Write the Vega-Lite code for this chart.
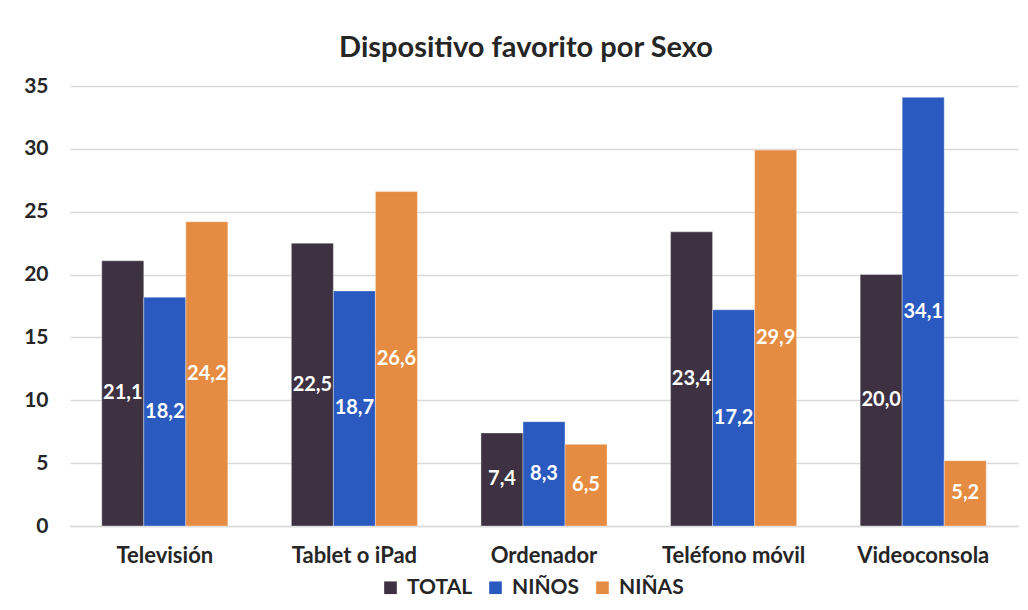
{
  "$schema": "https://vega.github.io/schema/vega-lite/v6.json",
  "autosize": {"type": "none"},
  "width": 948,
  "height": 440,
  "padding": {"left": 70, "top": 86, "right": 10, "bottom": 84},
  "background": "white",
  "config": {
    "font": "Lato",
    "view": {"stroke": null},
    "locale": {"number": {"decimal": ",", "thousands": ".", "grouping": [3], "currency": ["", " €"]}}
  },
  "title": {
    "text": "Dispositivo favorito por Sexo",
    "font": "Lato",
    "fontSize": 29,
    "fontWeight": "bold",
    "color": "#262626",
    "anchor": "middle",
    "dx": -18,
    "offset": 12
  },
  "data": {
    "values": [
      {"dispositivo": "Televisión", "grupo": "TOTAL", "v": 21.1},
      {"dispositivo": "Televisión", "grupo": "NIÑOS", "v": 18.2},
      {"dispositivo": "Televisión", "grupo": "NIÑAS", "v": 24.2},
      {"dispositivo": "Tablet o iPad", "grupo": "TOTAL", "v": 22.5},
      {"dispositivo": "Tablet o iPad", "grupo": "NIÑOS", "v": 18.7},
      {"dispositivo": "Tablet o iPad", "grupo": "NIÑAS", "v": 26.6},
      {"dispositivo": "Ordenador", "grupo": "TOTAL", "v": 7.4},
      {"dispositivo": "Ordenador", "grupo": "NIÑOS", "v": 8.3},
      {"dispositivo": "Ordenador", "grupo": "NIÑAS", "v": 6.5},
      {"dispositivo": "Teléfono móvil", "grupo": "TOTAL", "v": 23.4},
      {"dispositivo": "Teléfono móvil", "grupo": "NIÑOS", "v": 17.2},
      {"dispositivo": "Teléfono móvil", "grupo": "NIÑAS", "v": 29.9},
      {"dispositivo": "Videoconsola", "grupo": "TOTAL", "v": 20.0},
      {"dispositivo": "Videoconsola", "grupo": "NIÑOS", "v": 34.1},
      {"dispositivo": "Videoconsola", "grupo": "NIÑAS", "v": 5.2}
    ]
  },
  "encoding": {
    "x": {
      "field": "dispositivo",
      "type": "nominal",
      "sort": ["Televisión", "Tablet o iPad", "Ordenador", "Teléfono móvil", "Videoconsola"],
      "scale": {"paddingInner": 0.335, "paddingOuter": 0.1675},
      "axis": {
        "title": null,
        "labelAngle": 0,
        "labelFont": "Lato",
        "labelFontSize": 22,
        "labelFontWeight": "bold",
        "labelColor": "#262626",
        "labelPadding": 19,
        "ticks": false,
        "domainColor": "#d9d9d9",
        "domainWidth": 1.3
      }
    },
    "xOffset": {
      "field": "grupo",
      "type": "nominal",
      "sort": ["TOTAL", "NIÑOS", "NIÑAS"],
      "scale": {"paddingInner": 0, "paddingOuter": 0}
    }
  },
  "layer": [
    {
      "mark": {"type": "bar", "stroke": "#ffffff", "strokeWidth": 0.6, "strokeOpacity": 0.6},
      "encoding": {
        "y": {
          "field": "v",
          "type": "quantitative",
          "scale": {"domain": [0, 35], "nice": false},
          "axis": {
            "title": null,
            "values": [0, 5, 10, 15, 20, 25, 30, 35],
            "labelFont": "Lato",
            "labelFontSize": 21,
            "labelFontWeight": "bold",
            "labelColor": "#262626",
            "labelPadding": 22,
            "ticks": false,
            "domain": false,
            "gridColor": "#d9d9d9",
            "gridWidth": 1.3
          }
        },
        "color": {
          "field": "grupo",
          "type": "nominal",
          "sort": ["TOTAL", "NIÑOS", "NIÑAS"],
          "scale": {"domain": ["TOTAL", "NIÑOS", "NIÑAS"], "range": ["#3e3242", "#2a5ac0", "#e68c42"]},
          "legend": {
            "title": null,
            "orient": "none",
            "legendX": 310,
            "legendY": 491,
            "direction": "horizontal",
            "symbolType": "square",
            "symbolSize": 160,
            "symbolStrokeWidth": 0,
            "symbolOpacity": 1,
            "labelFont": "Lato",
            "labelFontSize": 21,
            "labelFontWeight": "bold",
            "labelColor": "#262626",
            "labelOffset": 6,
            "columnPadding": 12
          }
        }
      }
    },
    {
      "transform": [{"calculate": "datum.v / 2", "as": "mid"}],
      "mark": {"type": "text", "color": "white", "font": "Lato", "fontSize": 20, "fontWeight": "bold", "baseline": "middle"},
      "encoding": {
        "y": {"field": "mid", "type": "quantitative"},
        "text": {"field": "v", "type": "quantitative", "format": ".1f"}
      }
    }
  ]
}
